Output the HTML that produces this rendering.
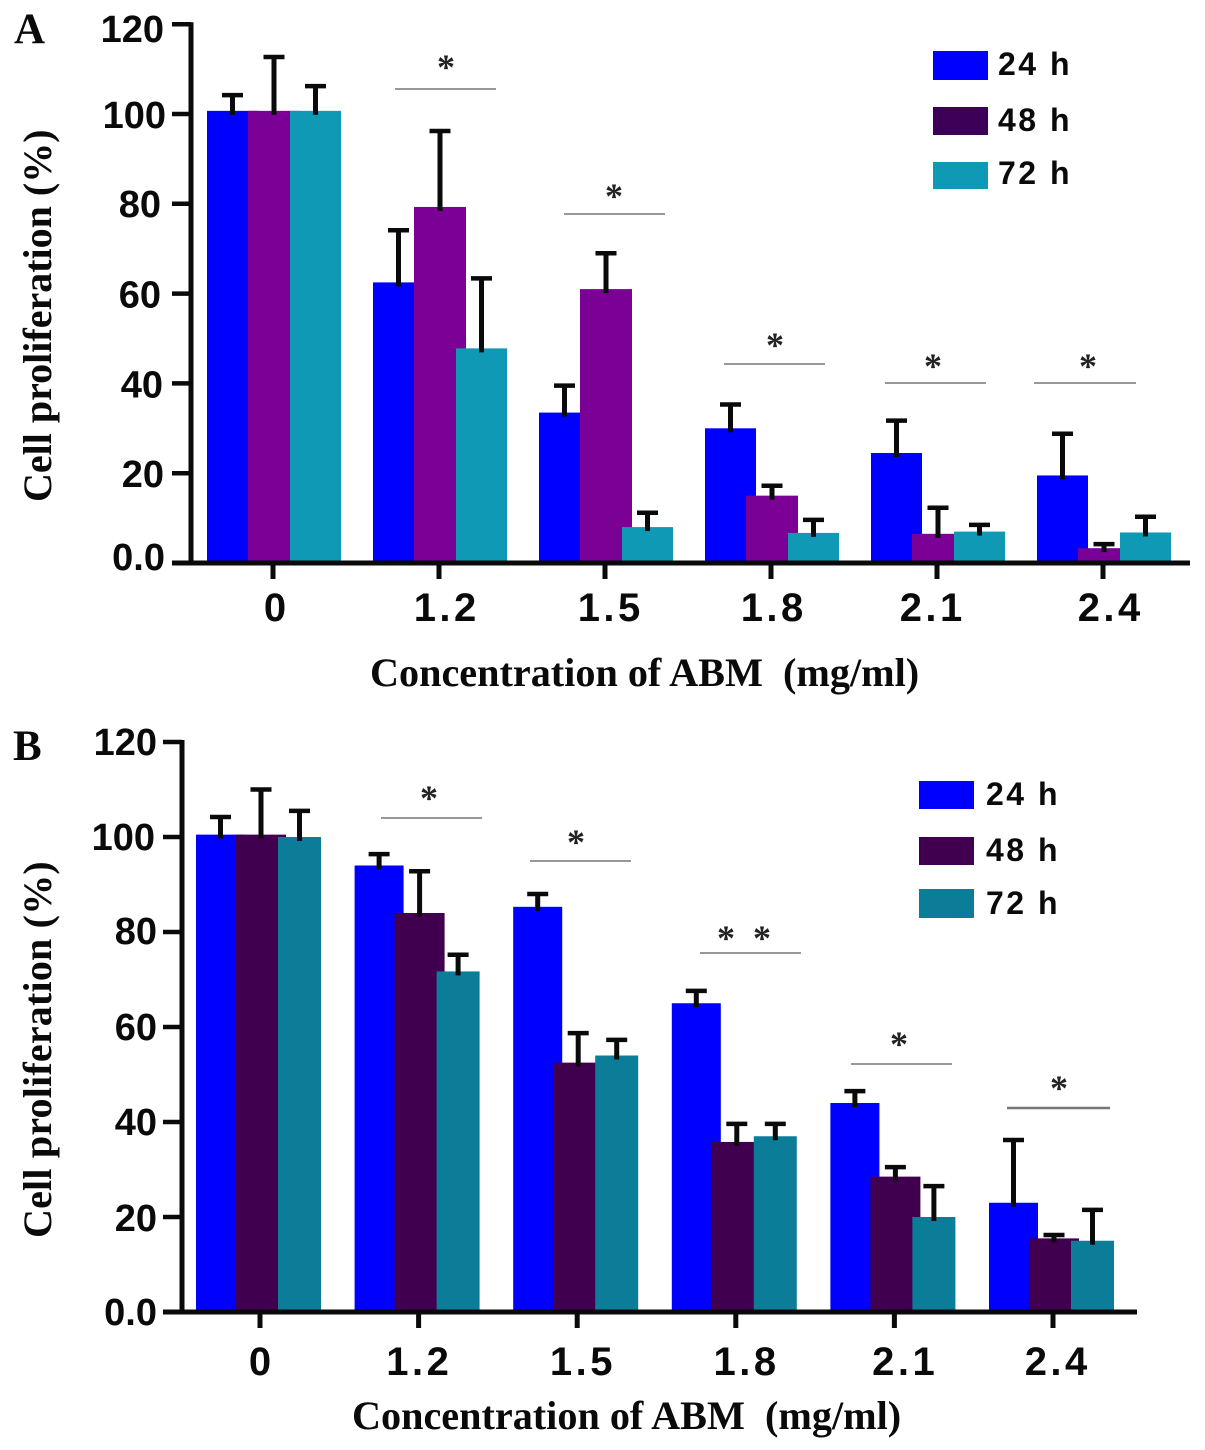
<!DOCTYPE html>
<html lang="en">
<head>
<meta charset="utf-8">
<title>Cell proliferation vs ABM concentration</title>
<style>
  html, body { margin: 0; padding: 0; background: #fff; width: 1205px; height: 1450px; overflow: hidden; }
  svg { display: block; }
  .sans { font-family: "Liberation Sans", Arial, sans-serif; font-weight: 700; fill: #0a0a0a; }
  .serif { font-family: "Liberation Serif", "Times New Roman", serif; font-weight: 700; fill: #0a0a0a; }
  .star { font-family: "Liberation Serif", "Times New Roman", serif; font-weight: 700; font-size: 36px; fill: #222; text-anchor: middle; }
</style>
</head>
<body>
<svg id="figure" xmlns="http://www.w3.org/2000/svg" width="1205" height="1450" viewBox="0 0 1205 1450">
  <g id="panel-a">
    <text class="serif" x="14" y="43" font-size="43">A</text>
    <text class="serif" x="370" y="686" font-size="40.2" xml:space="preserve">Concentration of ABM  (mg/ml)</text>
    <text class="serif" transform="translate(51 502) rotate(-90)" font-size="40">Cell proliferation (%)</text>
    <g stroke="#777" stroke-width="1.6">
      <line x1="395" x2="496" y1="89" y2="89"/>
      <line x1="564" x2="665" y1="214" y2="214"/>
      <line x1="724" x2="825" y1="364" y2="364"/>
      <line x1="885" x2="986" y1="383" y2="383"/>
      <line x1="1034" x2="1136" y1="383" y2="383"/>
    </g>
    <text class="star" x="446" y="79">*</text>
    <text class="star" x="614" y="208">*</text>
    <text class="star" x="775" y="357">*</text>
    <text class="star" x="933" y="378">*</text>
    <text class="star" x="1088" y="378">*</text>
    <g>
      <rect x="933" y="51" width="55" height="29" fill="#0000ff"/>
      <text class="sans" x="998" y="75" font-size="32" letter-spacing="2.5">24 h</text>
      <rect x="933" y="107" width="55" height="28" fill="#3c0058"/>
      <text class="sans" x="998" y="131" font-size="32" letter-spacing="2.5">48 h</text>
      <rect x="933" y="162" width="55" height="27" fill="#1099b4"/>
      <text class="sans" x="998" y="184" font-size="32" letter-spacing="2.5">72 h</text>
    </g>
  </g>
  <g id="panel-b">
    <text class="serif" x="13" y="760" font-size="43">B</text>
    <text class="serif" x="352" y="1429" font-size="40.2" xml:space="preserve">Concentration of ABM  (mg/ml)</text>
    <text class="serif" transform="translate(51 1238) rotate(-90)" font-size="40" letter-spacing="0.2">Cell proliferation (%)</text>
    <g stroke="#777" stroke-width="1.6">
      <line x1="381" x2="482" y1="818" y2="818"/>
      <line x1="530" x2="631" y1="861" y2="861"/>
      <line x1="700" x2="801" y1="953" y2="953"/>
      <line x1="851" x2="952" y1="1064" y2="1064"/>
      <line x1="1007" x2="1110" y1="1108" y2="1108" stroke-width="2.4"/>
    </g>
    <text class="star" x="429" y="810">*</text>
    <text class="star" x="576" y="854">*</text>
    <text class="star" x="726" y="950">*</text>
    <text class="star" x="762" y="950">*</text>
    <text class="star" x="899" y="1056">*</text>
    <text class="star" x="1059" y="1100">*</text>
    <g>
      <rect x="919" y="781" width="55" height="28" fill="#0000ff"/>
      <text class="sans" x="986" y="805" font-size="32" letter-spacing="2.5">24 h</text>
      <rect x="919" y="837" width="55" height="28" fill="#41004f"/>
      <text class="sans" x="986" y="861" font-size="32" letter-spacing="2.5">48 h</text>
      <rect x="919" y="889" width="55" height="29" fill="#0c7d99"/>
      <text class="sans" x="986" y="914" font-size="32" letter-spacing="2.5">72 h</text>
    </g>
  </g>
</svg>
<script>
const categories = ['0', '1.2', '1.5', '1.8', '2.1', '2.4'];
const yTicks = [0, 20, 40, 60, 80, 100, 120];
const yTickLabels = ['0.0', '20', '40', '60', '80', '100', '120'];
const seriesNames = ['24h', '48h', '72h'];

const a24 = [100.7, 62.5, 33.5, 30, 24.5, 19.5];
const a48 = [100.7, 79.3, 61, 15, 6.5, 3.3];
const a72 = [100.7, 47.8, 8, 6.7, 7, 6.8];
const a24Err = [3.5, 11.6, 6, 5.3, 7.2, 9.3];
const a48Err = [12, 16.9, 8, 2.2, 5.8, 0.9];
const a72Err = [5.5, 15.6, 3.2, 2.9, 1.5, 3.5];

const b24 = [100.5, 94, 85.3, 65, 44, 23];
const b48 = [100.5, 84, 52.5, 35.8, 28.5, 15.5];
const b72 = [100, 71.7, 54, 37, 20, 15];
const b24Err = [3.7, 2.4, 2.7, 2.6, 2.5, 13.2];
const b48Err = [9.5, 8.8, 6.2, 3.8, 2, 0.7];
const b72Err = [5.5, 3.5, 3.3, 2.6, 6.5, 6.5];

const NS = 'http://www.w3.org/2000/svg';

function make(parent, tag, attrs) {
  const el = document.createElementNS(NS, tag);
  for (const k in attrs) el.setAttribute(k, attrs[k]);
  parent.appendChild(el);
  return el;
}

function drawPanel(root, cfg, values, errors) {
  const y = v => cfg.y0 - v * cfg.pxPerUnit;
  const groupX = i => cfg.firstX + i * cfg.groupStep;

  categories.forEach((cat, i) => {
    values.forEach((vals, s) => {
      const left = groupX(i) + cfg.offsets[s];
      const w = cfg.widths[s];
      const top = y(vals[i]);
      const cx = left + w / 2;
      const errTop = y(vals[i] + errors[s][i]);

      const bar = make(root, 'rect', { x: left, y: top, width: w, height: cfg.y0 - top, fill: cfg.colors[s] });
      
      

      const stem = make(root, 'line', { x1: cx, x2: cx, y1: top + 4, y2: errTop, stroke: '#0a0a0a', 'stroke-width': 5 });
      
      

      const cap = make(root, 'line', { x1: cx - 10.5, x2: cx + 10.5, y1: errTop, y2: errTop, stroke: '#0a0a0a', 'stroke-width': 4.5 });
      
      
    });
  });

  const yAxis = make(root, 'line', { x1: cfg.axisX, x2: cfg.axisX, y1: y(120) - 2, y2: cfg.y0 + 2, stroke: '#0a0a0a', 'stroke-width': 5 });
  
  

  const xAxis = make(root, 'line', { x1: cfg.tickLeft, x2: cfg.axisEnd, y1: cfg.y0, y2: cfg.y0, stroke: '#0a0a0a', 'stroke-width': 5 });
  
  

  yTicks.forEach((t, i) => {
    const ty = y(t);
    const tick = make(root, 'line', { x1: cfg.tickLeft, x2: cfg.axisX, y1: ty, y2: ty, stroke: '#0a0a0a', 'stroke-width': 4.5 });
    
    

    const label = make(root, 'text', { class: 'sans', x: cfg.tickLabelX + cfg.yLabelDx[i], y: ty + cfg.yLabelDy[i], 'font-size': 38, 'text-anchor': 'end' });
    label.textContent = yTickLabels[i];
    
    
  });

  categories.forEach((cat, i) => {
    const cx = cfg.firstTickX + i * cfg.groupStep;
    const tick = make(root, 'line', { x1: cx, x2: cx, y1: cfg.y0, y2: cfg.y0 + 16, stroke: '#0a0a0a', 'stroke-width': 5 });
    
    

    const label = make(root, 'text', { class: 'sans', x: cx + cfg.xLabelDx[i] + 1.75, y: cfg.xLabelY, 'font-size': 40, 'letter-spacing': 3.5, 'text-anchor': 'middle' });
    label.textContent = cat;
    
    
  });
}

drawPanel(document.getElementById('panel-a'), {
  y0: 563, pxPerUnit: 4.49, firstX: 207, groupStep: 166, firstTickX: 273,
  offsets: [0, 41, 83], widths: [51, 52, 51],
  colors: ['#0000ff', '#7a0096', '#1099b4'],
  axisX: 191, tickLeft: 172, axisEnd: 1190, tickLabelX: 165, xLabelY: 621,
  yLabelDx: [0, -1, -2, -4, -4, 1, -1], yLabelDy: [7, 14, 14, 14, 13, 14, 18],
  xLabelDx: [2, 6, 4, 1, -6, 6]
}, [a24, a48, a72], [a24Err, a48Err, a72Err]);

drawPanel(document.getElementById('panel-b'), {
  y0: 1312, pxPerUnit: 4.75, firstX: 196, groupStep: 158.6, firstTickX: 260,
  offsets: [0, 40, 82], widths: [49, 50, 43],
  colors: ['#0000ff', '#41004f', '#0c7d99'],
  axisX: 182, tickLeft: 163, axisEnd: 1137, tickLabelX: 157, xLabelY: 1375,
  yLabelDx: [0, 0, 0, 0, 0, -2, 0], yLabelDy: [13, 14, 13, 13, 12, 13, 13],
  xLabelDx: [0, -1, 4, 9, 9, 3]
}, [b24, b48, b72], [b24Err, b48Err, b72Err]);
</script>
</body>
</html>
